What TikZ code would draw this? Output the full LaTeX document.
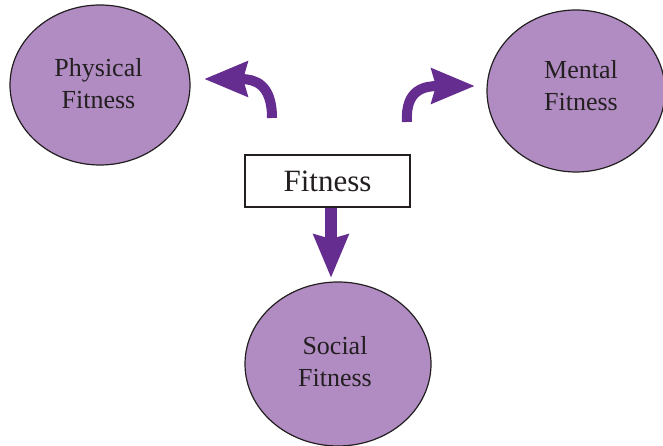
\documentclass[tikz,border=0pt]{standalone}
\usepackage{fontspec}
\setmainfont{Liberation Serif}
\usetikzlibrary{shapes.geometric,arrows.meta}

\definecolor{lilac}{HTML}{B18CC3}
\definecolor{grape}{HTML}{662D91}
\definecolor{ink}{HTML}{231F20}

\tikzset{
	goal/.style={ellipse, draw=ink, line width=1.2pt, fill=lilac, inner sep=0pt},
	tag/.style={text=ink, align=center, inner sep=0pt, font=\fontsize{26}{32}\selectfont},
	hub/.style={draw=ink, line width=1.6pt, fill=white, text=ink, minimum width=165pt, minimum height=52pt, inner sep=0pt, font=\fontsize{31}{36}\selectfont},
	push/.style={draw=grape, line width=10pt, -{Stealth[length=43pt,width=34pt,inset=4pt]}}
}

\begin{document}
\begin{tikzpicture}[x=1pt, y=1pt]
	
	\useasboundingbox (0,0) rectangle (663,446);
	
	% the three kinds of fitness
	\node[goal, minimum width=180pt, minimum height=160pt] (phys) at (100,361) {};
	\node[goal, minimum width=178pt, minimum height=162pt] (ment) at (576,355) {};
	\node[goal, minimum width=186pt, minimum height=164pt] (soc) at (338,82) {};
	
	\node[tag] (physlbl) at ([xshift=-1.5pt, yshift=1pt]phys.center) {Physical\\Fitness};
	\node[tag] (mentlbl) at ([xshift=5pt, yshift=5pt]ment.center) {Mental\\Fitness};
	\node[tag] (soclbl) at ([xshift=-3pt, yshift=2.5pt]soc.center) {Social\\Fitness};
	
	\node[hub] (fit) at (327.5,265) {Fitness};
	
	% free ends of the arrows
	\coordinate (lstart) at (272,328);
	\coordinate (ltip) at (204,367);
	\coordinate (rstart) at (407,324);
	\coordinate (rtip) at (475,360);
	\coordinate (dtip) at (331,168);
	
	\draw[push] (lstart) .. controls (272,362) and (255,367) .. (ltip); % to physical
	\draw[push] (rstart) .. controls (405,357) and (425,360) .. (rtip); % to mental
	\draw[push, line width=12pt] ([xshift=3.5pt]fit.south) -- (dtip); % to social
	
\end{tikzpicture}
\end{document}
